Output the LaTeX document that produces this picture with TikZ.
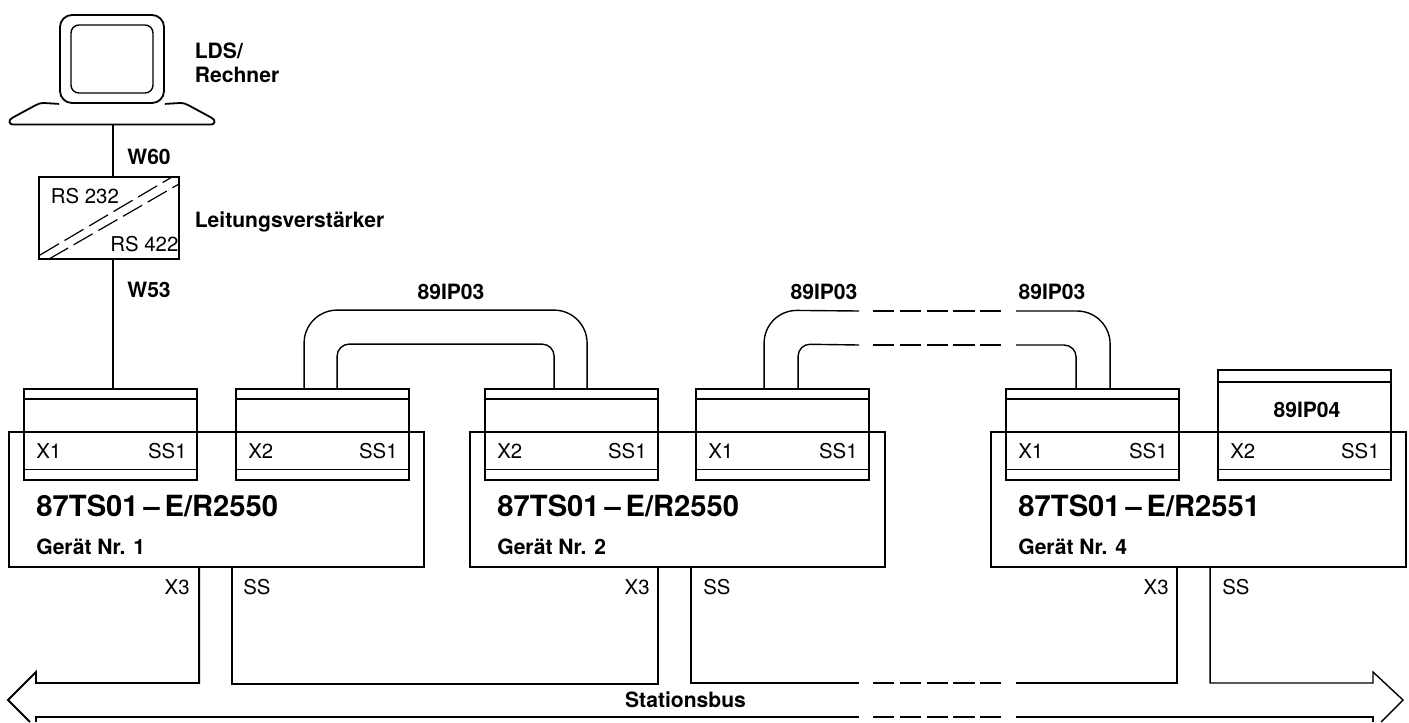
\documentclass[tikz,border=0pt]{standalone}
\usepackage{fontspec}
\setsansfont{TeX Gyre Heros}
\usepackage{tikz}
\usetikzlibrary{positioning,calc}

\begin{document}
\begin{tikzpicture}[
  x=0.2mm, y=-0.2mm,
  font=\sffamily,
  line/.style={draw=black, line width=0.36mm},
  thin line/.style={draw=black, line width=0.28mm},
  device/.style={rectangle, draw=black, line width=0.36mm, minimum width=83mm, minimum height=27mm, inner sep=0pt},
  modul/.style={rectangle, draw=black, line width=0.36mm, minimum width=34.6mm, minimum height=18.2mm, inner sep=0pt},
  modultall/.style={modul, minimum height=22mm},
  dashpart/.style={draw=black, line width=0.36mm, dash pattern=on 4.25mm off 1.1mm},
  rsdash/.style={draw=black, line width=0.24mm, dash pattern=on 4.4mm off 1.3mm},
  lbl/.style={font=\fontsize{11.6}{13}\selectfont\sffamily, inner sep=0pt},
  blbl/.style={font=\fontsize{12}{14}\selectfont\sffamily\bfseries, inner sep=0pt},
  titel/.style={font=\fontsize{16.6}{19}\selectfont\sffamily\bfseries, inner sep=0pt, anchor=west},
]
\useasboundingbox (0,0) rectangle (1409,722);
% Rechner
\node[rectangle, line, rounded corners=2.4mm, minimum width=20.8mm, minimum height=17.6mm] (screen) at (112,59) {};
\node[rectangle, thin line, rounded corners=1.6mm, minimum width=16.4mm, minimum height=13.6mm] (display) at (112,59) {};
\draw[line] (screen.south west) -- (44,103) .. controls (40,103) and (38,104) .. (35,105.5) -- (12,118)
  .. controls (8,120.5) and (9,124.5) .. (13,124.5) -- (211,124.5) .. controls (215,124.5) and (216,120.5) .. (212,118)
  -- (189,105.5) .. controls (186,104) and (184,103) .. (180,103) -- (screen.south east);
\coordinate (pcbase) at (113,124);
\node[blbl, anchor=west] (lds) at (194.5,51) {LDS/};
\node[blbl, anchor=west] (rechner) at (194.5,75) {Rechner};
% Leitungsverstaerker
\node[rectangle, line, minimum width=28mm, minimum height=16.4mm] (conv) at (109,218) {};
\draw[rsdash] (40,255) -- (172,177);
\draw[rsdash] (49,259) -- (179,184);
\node[lbl, anchor=west] (rsin) at (50.5,196) {RS 232};
\node[lbl, anchor=west] (rsout) at (110,244) {RS 422};
\node[blbl, anchor=west] (verst) at (194.5,222) {Leitungsverstärker};
\node[blbl, anchor=west] (wsechzig) at (127,157) {W60};
\node[blbl, anchor=west] (wdrei) at (127,290) {W53};
% Geraete
\node[device] (dev1) at (216.5,499.5) {};
\node[device] (dev2) at (677.5,499.5) {};
\node[device] (dev4) at (1198.5,499.5) {};
\node[titel] (typ1) at (36,506) {87TS01\,--\,E/R2550};
\node[titel] (typ2) at (497,506) {87TS01\,--\,E/R2550};
\node[titel] (typ4) at (1018,506) {87TS01\,--\,E/R2551};
\node[blbl, anchor=west] (nr1) at (36,547) {Gerät Nr. 1};
\node[blbl, anchor=west] (nr2) at (497,547) {Gerät Nr. 2};
\node[blbl, anchor=west] (nr4) at (1018,547) {Gerät Nr. 4};
% Baugruppen
\node[modul] (moda) at (110.5,434.5) {};
\node[modul] (modb) at (322.5,434.5) {};
\node[modul] (modc) at (571.5,434.5) {};
\node[modul] (modd) at (782.5,434.5) {};
\node[modul] (mode) at (1092.5,434.5) {};
\node[modultall] (modf) at (1304.5,425) {};
\draw[thin line] ([yshift=-2.2mm]moda.north west) -- ([yshift=-2.2mm]moda.north east);
\draw[thin line] ([yshift=2.3mm]moda.south west) -- ([yshift=2.3mm]moda.south east);
\draw[thin line] ([yshift=-2.2mm]modb.north west) -- ([yshift=-2.2mm]modb.north east);
\draw[thin line] ([yshift=2.3mm]modb.south west) -- ([yshift=2.3mm]modb.south east);
\draw[thin line] ([yshift=-2.2mm]modc.north west) -- ([yshift=-2.2mm]modc.north east);
\draw[thin line] ([yshift=2.3mm]modc.south west) -- ([yshift=2.3mm]modc.south east);
\draw[thin line] ([yshift=-2.2mm]modd.north west) -- ([yshift=-2.2mm]modd.north east);
\draw[thin line] ([yshift=2.3mm]modd.south west) -- ([yshift=2.3mm]modd.south east);
\draw[thin line] ([yshift=-2.2mm]mode.north west) -- ([yshift=-2.2mm]mode.north east);
\draw[thin line] ([yshift=2.3mm]mode.south west) -- ([yshift=2.3mm]mode.south east);
\draw[thin line] ([yshift=-2.6mm]modf.north west) -- ([yshift=-2.6mm]modf.north east);
\draw[thin line] ([yshift=2.3mm]modf.south west) -- ([yshift=2.3mm]modf.south east);
% Beschriftung der Baugruppen
\node[lbl, anchor=west] (xa) at (36,451) {X1};
\node[lbl, anchor=east] (sa) at (187,451) {SS1};
\node[lbl, anchor=west] (xb) at (248,451) {X2};
\node[lbl, anchor=east] (sb) at (398,451) {SS1};
\node[lbl, anchor=west] (xc) at (497,451) {X2};
\node[lbl, anchor=east] (sc) at (647,451) {SS1};
\node[lbl, anchor=west] (xd) at (708,451) {X1};
\node[lbl, anchor=east] (sd) at (858,451) {SS1};
\node[lbl, anchor=west] (xe) at (1018,451) {X1};
\node[lbl, anchor=east] (se) at (1168,451) {SS1};
\node[lbl, anchor=west] (xf) at (1230,451) {X2};
\node[lbl, anchor=east] (sf) at (1380,451) {SS1};
\node[blbl] (ipvier) at (1307,410) {89IP04};
% Verbindungen
\draw[line] (pcbase) -- (pcbase |- conv.north);
\draw[line] (pcbase |- conv.south) -- (pcbase |- moda.north);
% Kabel 89IP03
\draw[thin line, rounded corners=6.6mm] ([xshift=13.8mm]modb.north west) -- ++(0,-78) -| ([xshift=20.6mm]modc.north west);
\draw[thin line, rounded corners=2.4mm] ([xshift=20.4mm]modb.north west) -- ++(0,-44) -| ([xshift=14mm]modc.north west);
\coordinate (outl) at (859,311);
\coordinate (outr) at (1016,311);
\coordinate (innl) at (859,345);
\coordinate (innr) at (1016,345);
\draw[thin line, rounded corners=6.6mm] ([xshift=13.8mm]modd.north west) -- ++(0,-78) -- (outl);
\draw[thin line, rounded corners=2.4mm] ([xshift=20.6mm]modd.north west) -- ++(0,-44) -- (innl);
\draw[thin line, rounded corners=6.6mm] (outr) -| ([xshift=21mm]mode.north west);
\draw[thin line, rounded corners=2.4mm] (innr) -| ([xshift=14.2mm]mode.north west);
\draw[dashpart] ([xshift=2.8mm]outl) -- ([xshift=-2.8mm]outr);
\draw[dashpart] ([xshift=2.8mm]innl) -- ([xshift=-2.8mm]innr);
\node[blbl] (ipa) at (451,292) {89IP03};
\node[blbl] (ipb) at (824,292) {89IP03};
\node[blbl] (ipc) at (1052,292) {89IP03};
% Stationsbus
\coordinate (busl) at (859,683);
\coordinate (busr) at (1016,683);
\coordinate (unterl) at (859,717);
\coordinate (unterr) at (1016,717);
\draw[line] (30,722) -- (8,700) -- (36,672) -- (36,683) -| ([xshift=38.2mm]dev1.south west);
\draw[thin line] ([xshift=44.8mm]dev1.south west) -- ++(0,116) -| ([xshift=37.8mm]dev2.south west);
\draw[thin line] ([xshift=44.4mm]dev2.south west) |- (busl);
\draw[line] (busr) -| ([xshift=37.4mm]dev4.south west);
\draw[thin line] ([xshift=44mm]dev4.south west) |- (1373,683) -- (1373,672) -- (1403,700) -- (1381,722);
\draw[line] (36,722) -- (36,717) -- (unterl);
\draw[line] (unterr) -- (1373,717) -- (1373,722);
\draw[dashpart] ([xshift=2.8mm]busl) -- ([xshift=-2.8mm]busr);
\draw[dashpart] ([xshift=2.8mm]unterl) -- ([xshift=-2.8mm]unterr);
\node[blbl] (bus) at (685.5,700) {Stationsbus};
% Schnittstellen
\node[lbl, anchor=east] (xdrei1) at (190,587) {X3};
\node[lbl, anchor=west] (ss1) at (243,587) {SS};
\node[lbl, anchor=east] (xdrei2) at (650,587) {X3};
\node[lbl, anchor=west] (ss2) at (703,587) {SS};
\node[lbl, anchor=east] (xdrei4) at (1169,587) {X3};
\node[lbl, anchor=west] (ss4) at (1222,587) {SS};
\end{tikzpicture}
\end{document}
